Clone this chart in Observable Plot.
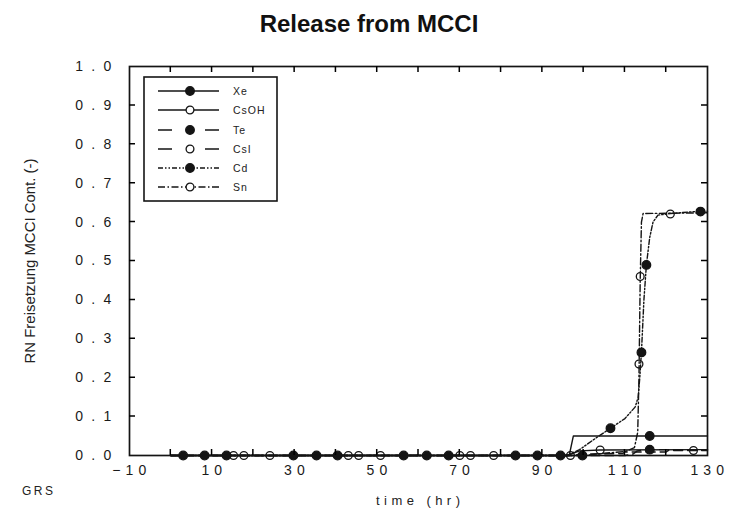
<!DOCTYPE html>
<html>
<head>
<meta charset="utf-8">
<script src="https://cdn.jsdelivr.net/npm/d3@7"></script>
<script src="https://cdn.jsdelivr.net/npm/@observablehq/plot@0.6"></script>
<style>
  html, body { margin: 0; padding: 0; background: #fff; }
  #wrap { position: relative; width: 738px; height: 511px; overflow: hidden; }
  #title { height: 46px; width: 738px; text-align: center; font: bold 24px "Liberation Sans", Arial, sans-serif; line-height: 48px; color: #111; }
  g[aria-label="x-axis tick label"] text { letter-spacing: 0.6px; }
  g[aria-label="y-axis tick label"] text { letter-spacing: 2.2px; }
</style>
</head>
<body>
<div id="wrap">
  <div id="title">Release from MCCI</div>
  <div id="chart"></div>
</div>
<script>
// ---- data ----
const seriesNames = ["Xe", "CsOH", "Te", "CsI", "Cd", "Sn"];
const seriesFilled = [true, false, true, false, true, false];
const seriesDash = [null, null, "9,5", "9,5", "5,2,1.5,2,1.5,2", "7,2.5,1.5,2.5"];

// line paths
const xeT = [0, 96.5, 97.5, 130];
const xeV = [0, 0, 0.05, 0.05];
const csohT = [0, 96, 99, 104, 130];
const csohV = [0, 0, 0.012, 0.014, 0.015];
const teT = [0, 110, 112, 113, 116, 130];
const teV = [0, 0, 0.004, 0.012, 0.015, 0.015];
const csiT = [0, 97, 100, 109.5, 110, 120, 120.5, 130];
const csiV = [0, 0, 0.004, 0.005, 0.009, 0.009, 0.013, 0.013];
const cdT = [0, 96, 99, 103, 106.5, 110, 112.5, 113.2, 113.6, 114, 114.6, 115.2, 116, 116.8, 118, 121, 128, 130];
const cdV = [0, 0, 0.015, 0.045, 0.07, 0.095, 0.125, 0.15, 0.2, 0.265, 0.4, 0.49, 0.56, 0.6, 0.618, 0.622, 0.628, 0.628];
const snT = [0, 100, 105, 110, 112.3, 113.1, 113.4, 113.7, 114.0, 114.4, 130];
const snV = [0, 0, 0.006, 0.01, 0.02, 0.06, 0.2, 0.45, 0.6, 0.622, 0.624];

// marker points
const xeMT = [3, 29.7, 56.4, 83.5, 116];
const xeMV = [0, 0, 0, 0, 0.05];
const csohMT = [15.2, 43, 70, 96.8, 104];
const csohMV = [0, 0, 0, 0, 0.014];
const teMT = [8.2, 35.3, 62, 88.8, 99.7, 116];
const teMV = [0, 0, 0, 0, 0, 0.015];
const csiMT = [17.7, 45.5, 72.6, 126.6];
const csiMV = [0, 0, 0, 0.013];
const cdMT = [13.5, 40.4, 67.3, 94.4, 106.5, 114, 115.2, 128.3];
const cdMV = [0, 0, 0, 0, 0.07, 0.265, 0.49, 0.627];
const snMT = [24, 50.8, 78.2, 113.4, 113.7, 121];
const snMV = [0, 0, 0, 0.235, 0.46, 0.621];

// ticks
const xTickLabels = [-10, 10, 30, 50, 70, 90, 110, 130];
const xMinorTicks = [0, 10, 20, 30, 40, 50, 60, 70, 80, 90, 100, 110, 120];
const yTickLabels = [0, 0.1, 0.2, 0.3, 0.4, 0.5, 0.6, 0.7, 0.8, 0.9, 1.0];
const yMinorTicks = [0.1, 0.2, 0.3, 0.4, 0.5, 0.6, 0.7, 0.8, 0.9];

const yLabel = "RN Freisetzung MCCI Cont. (-)";
const xLabel = "time (hr)";
const footLabel = "GRS";

// ---- build tables ----
const lineT = [xeT, csohT, teT, csiT, cdT, snT];
const lineV = [xeV, csohV, teV, csiV, cdV, snV];
const markT = [xeMT, csohMT, teMT, csiMT, cdMT, snMT];
const markV = [xeMV, csohMV, teMV, csiMV, cdMV, snMV];

const ink = "#141414";
const dataMarks = [];
seriesNames.forEach((name, i) => {
  const rows = lineT[i].map((t, j) => ({series: name, t, v: lineV[i][j]}));
  dataMarks.push(Plot.line(rows, {x: "t", y: "v", stroke: ink, strokeWidth: 1.4,
    strokeDasharray: seriesDash[i] || undefined}));
});
seriesNames.forEach((name, i) => {
  const pts = markT[i].map((t, j) => ({series: name, t, v: markV[i][j]}));
  dataMarks.push(Plot.dot(pts, {x: "t", y: "v", r: seriesFilled[i] ? 4.3 : 3.9,
    fill: seriesFilled[i] ? ink : "none", stroke: ink, strokeWidth: 1.3}));
});

const spaced = d => String(d).replace("-", "\u2212").split("").join(" ");
const spacedY = d => d.toFixed(1).split("").join(" ");

const W = 738, H = 465, MT = 20, MB = 56, ML = 129, MR = 31, TK = 6;

const svg = Plot.plot({
  width: W, height: H,
  marginTop: MT, marginBottom: MB, marginLeft: ML, marginRight: MR,
  x: {domain: [-10, 130]},
  y: {domain: [0, 1]},
  style: {fontFamily: "'Liberation Sans', Arial, sans-serif", fontSize: "14px", color: "#1a1a1a", background: "#fff"},
  marks: [
    Plot.axisX(xTickLabels, {anchor: "bottom", tickSize: 0, tickPadding: 10, tickFormat: spaced, label: null}),
    Plot.axisY(yTickLabels, {anchor: "left", tickSize: 0, tickPadding: 16, tickFormat: spacedY, label: null}),
    ...dataMarks,
    Plot.frame({stroke: ink, strokeWidth: 1.7})
  ]
});
document.getElementById("chart").appendChild(svg);

// ---- inward tick marks on all four sides, placed with Plot's own scales ----
const sel = d3.select(svg);
const scX = svg.scale("x"), scY = svg.scale("y");
const frameTop = MT, frameBottom = H - MB, frameLeft = ML, frameRight = W - MR;
let tickPath = "";
xMinorTicks.forEach(v => {
  const px = scX.apply(v).toFixed(2);
  tickPath += `M${px},${frameBottom}V${frameBottom - TK}`;
  tickPath += `M${px},${frameTop}V${frameTop + TK}`;
});
yMinorTicks.forEach(v => {
  const py = scY.apply(v).toFixed(2);
  tickPath += `M${frameLeft},${py}H${frameLeft + TK}`;
  tickPath += `M${frameRight},${py}H${frameRight - TK}`;
});
sel.append("path").attr("d", tickPath)
  .attr("fill", "none").attr("stroke", "#000").attr("stroke-width", 1.5);

// ---- extra texts and legend (SVG coordinates = page y - 46) ----
const OY = 46;
sel.append("text")
  .attr("transform", `translate(35,${261 - OY}) rotate(-90)`)
  .attr("text-anchor", "middle")
  .attr("font-size", 14).attr("fill", "#222")
  .attr("textLength", 205).attr("lengthAdjust", "spacingAndGlyphs")
  .text(yLabel);
sel.append("text")
  .attr("x", 376).attr("y", 505 - OY)
  .attr("text-anchor", "start")
  .attr("font-size", 13).attr("fill", "#222")
  .attr("textLength", 84).attr("lengthAdjust", "spacing")
  .text(xLabel);
sel.append("text")
  .attr("x", 22).attr("y", 495 - OY)
  .attr("text-anchor", "start")
  .attr("font-size", 12).attr("fill", "#222")
  .attr("textLength", 31).attr("lengthAdjust", "spacing")
  .text(footLabel);

const lg = sel.append("g").attr("transform", `translate(144,${77 - OY})`);
lg.append("rect").attr("x", 0).attr("y", 0).attr("width", 133).attr("height", 124)
  .attr("fill", "#fff").attr("stroke", ink).attr("stroke-width", 1.6);
const rowY = [14, 33, 53, 72, 91, 110];
const legendDash = [null, null, "14,33,14", "14,33,14", "5,2,1.5,2,1.5,2", "7,2.5,1.5,2.5"];
seriesNames.forEach((name, i) => {
  const g = lg.append("g").attr("transform", `translate(0,${rowY[i]})`);
  g.append("line").attr("x1", 14).attr("x2", 75).attr("y1", 0).attr("y2", 0)
    .attr("stroke", ink).attr("stroke-width", 1.4)
    .attr("stroke-dasharray", legendDash[i]);
  g.append("circle").attr("cx", 46).attr("cy", 0).attr("r", seriesFilled[i] ? 4.3 : 3.9)
    .attr("fill", seriesFilled[i] ? ink : "#fff").attr("stroke", ink).attr("stroke-width", 1.3);
  g.append("text").attr("x", 89).attr("y", 0).attr("dy", "0.35em")
    .attr("text-anchor", "start")
    .attr("font-size", 10.5).attr("letter-spacing", "1px").attr("fill", "#222").text(name);
});
</script>
</body>
</html>
